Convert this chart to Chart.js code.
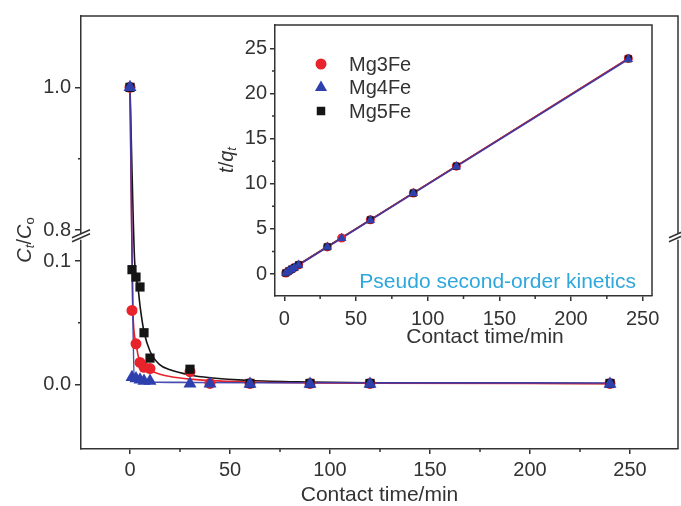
<!DOCTYPE html>
<html>
<head>
<meta charset="utf-8">
<title>Ct/Co vs contact time</title>
<script src="https://cdn.jsdelivr.net/npm/chart.js@4.4.0/dist/chart.umd.min.js"></script>
<style>
  body { margin: 0; background: #fff; }
  #wrap { position: relative; width: 681px; height: 506px; }
  #main { position: absolute; left: 0; top: 0; }
  #inset { position: absolute; left: 215px; top: 10px; }
</style>
</head>
<body>
<div id="wrap">
  <canvas id="main" width="681" height="506"></canvas>
  <canvas id="inset" width="450" height="340"></canvas>
</div>
<script>
// ---- removal curves (Ct/Co) ----
var times = [0, 1, 3, 5, 7, 10, 30, 40, 60, 90, 120, 240];
var ratioMg3Fe = [1.0, 0.060, 0.033, 0.018, 0.014, 0.013, 0.0105, 0.001, 0.001, 0.001, 0.001, 0.001];
var ratioMg4Fe = [1.0, 0.006, 0.005, 0.004, 0.003, 0.003, 0.0008, 0.0008, 0.0006, 0.0006, 0.0006, 0.0005];
var ratioMg5Fe = [1.0, 0.093, 0.087, 0.079, 0.042, 0.0215, 0.0125, null, 0.001, 0.001, 0.001, 0.001];

// fitted curves
var fitTimeMg3Fe = [0, 1.4, 3, 4, 5, 7, 10, 15, 20, 30, 40, 60, 90, 120, 240];
var fitMg3Fe = [1.0, 0.062, 0.034, 0.024, 0.019, 0.0145, 0.0115, 0.0085, 0.0066, 0.0045, 0.0033, 0.0022, 0.0015, 0.0012, 0.0008];
var fitTimeMg4Fe = [0, 2.2, 5, 10, 30, 60, 120, 240];
var fitMg4Fe = [1.0, 0.004, 0.0028, 0.0022, 0.0018, 0.0016, 0.0015, 0.0014];
var fitTimeMg5Fe = [0, 2.3, 4, 5, 7, 10, 15, 20, 30, 40, 60, 90, 120, 240];
var fitMg5Fe = [1.0, 0.11, 0.079, 0.064, 0.043, 0.027, 0.016, 0.012, 0.0078, 0.0056, 0.0034, 0.0022, 0.0016, 0.001];

var timeTicks = [0, 50, 100, 150, 200, 250];
var timeMinor = [25, 75, 125, 175, 225];
var ratioTicks = [0.0, 0.1, 0.8, 1.0];
var ratioMinor = [0.05, 0.9];

// ---- inset : pseudo second-order plot (t/qt) ----
var insetTimes = [1, 3, 5, 7, 10, 30, 40, 60, 90, 120, 240];
var tqMg3Fe = [0.11, 0.31, 0.51, 0.71, 1.01, 3.0, 3.99, 6.0, 8.97, 11.95, 23.9];
var tqMg4Fe = [0.10, 0.30, 0.50, 0.70, 1.0, 2.98, 3.97, 5.96, 8.94, 11.92, 23.8];
var tqMg5Fe = [0.11, 0.33, 0.54, 0.73, 1.02, 3.01, null, 6.0, 8.97, 11.95, 23.85];
var fitLineTime = [0, 240];
var tqFitMg3Fe = [0.03, 23.9];
var tqFitMg4Fe = [0.0, 23.8];
var tqFitMg5Fe = [0.05, 23.87];

var tqTicks = [0, 5, 10, 15, 20, 25];
var tqMinor = [2.5, 7.5, 12.5, 17.5, 22.5];

var red = '#e8232b', blue = '#2e3fae', black = '#151515';
var blueLine = 'rgba(52, 58, 170, 0.9)';
var axisColor = '#333', textColor = '#333';
var family = "'Liberation Sans', Arial, Helvetica, sans-serif";

Chart.defaults.font.family = family;
Chart.defaults.color = textColor;

// broken y axis: 0..0.1 keeps full scale, 0.1..0.8 is squeezed into a
// small gap, 0.8 and up is drawn at a smaller scale
var breakLow = 0.1, breakHigh = 0.8, gapSize = 0.025, upperRatio = 0.577;
function fold(v) {
  if (v <= breakLow) return v;
  if (v < breakHigh) return breakLow + (v - breakLow) / (breakHigh - breakLow) * gapSize;
  return breakLow + gapSize + (v - breakHigh) * upperRatio;
}
function unfold(f) {
  if (f <= breakLow) return f;
  if (f < breakLow + gapSize) return breakLow + (f - breakLow) / gapSize * (breakHigh - breakLow);
  return breakHigh + (f - breakLow - gapSize) / upperRatio;
}

class BrokenScale extends Chart.LinearScale {
  getPixelForValue(value) { return super.getPixelForValue(fold(value)); }
  getValueForPixel(pixel) { return unfold(super.getValueForPixel(pixel)); }
}
BrokenScale.id = 'broken';
BrokenScale.defaults = Chart.LinearScale.defaults;
Chart.register(BrokenScale);

function points(xs, ys) {
  return xs.map(function (x, i) { return { x: x, y: ys[i] }; });
}

function markerSet(label, xs, ys, color, style, r, order) {
  return {
    label: label, data: points(xs, ys), order: order,
    pointStyle: style, pointRadius: r, pointBackgroundColor: color,
    pointBorderColor: color, pointBorderWidth: 0, showLine: false
  };
}

function fitSet(xs, ys, color, order) {
  return {
    data: points(xs, ys), order: order, showLine: true, pointRadius: 0,
    borderColor: color, borderWidth: 1.6, cubicInterpolationMode: 'monotone'
  };
}

function setTicks(list) {
  return function (scale) { scale.ticks = list.map(function (v) { return { value: v }; }); };
}

// fixed axis box size, no extra room for overhanging labels
function fixHeight(h) {
  return function (s) { s.height = h; s.paddingLeft = 0; s.paddingRight = 0; };
}

// frame, short minor ticks and the axis break marks
var decor = {
  id: 'decor',
  beforeDraw: function (chart) {
    var a = chart.chartArea;
    chart.ctx.save();
    chart.ctx.fillStyle = '#fff';
    chart.ctx.fillRect(a.left, a.top, a.right - a.left, a.bottom - a.top);
    chart.ctx.restore();
  },
  afterDraw: function (chart, args, opts) {
    var ctx = chart.ctx, a = chart.chartArea;
    var xs = chart.scales.x, ys = chart.scales.y;
    ctx.save();
    ctx.strokeStyle = axisColor;
    ctx.lineWidth = 1.5;
    ctx.beginPath();
    ctx.moveTo(a.left, a.top);
    ctx.lineTo(a.right, a.top);
    ctx.lineTo(a.right, a.bottom);
    ctx.stroke();

    ctx.beginPath();
    opts.minorX.forEach(function (v) {
      var px = xs.getPixelForValue(v);
      ctx.moveTo(px, a.bottom);
      ctx.lineTo(px, a.bottom + 3);
    });
    opts.minorY.forEach(function (v) {
      var py = ys.getPixelForValue(v);
      ctx.moveTo(a.left, py);
      ctx.lineTo(a.left - 3, py);
    });
    ctx.stroke();

    if (opts.breakAt != null) {
      var by = ys.getPixelForValue(opts.breakAt);
      [a.left, a.right].forEach(function (bx) {
        ctx.fillStyle = '#fff';
        ctx.fillRect(bx - 2, by - 3, 4, 6);
        ctx.beginPath();
        ctx.moveTo(bx - 9, by + 1);
        ctx.lineTo(bx + 9, by - 7);
        ctx.moveTo(bx - 9, by + 5);
        ctx.lineTo(bx + 9, by - 3);
        ctx.stroke();
      });
    }
    ctx.restore();
  }
};

// rotated axis title made of several pieces (italics, subscripts)
function drawVerticalLabel(ctx, bx, cy, pieces) {
  ctx.save();
  ctx.translate(bx, cy);
  ctx.rotate(-Math.PI / 2);
  var total = 0;
  pieces.forEach(function (p) {
    ctx.font = p.font;
    p.w = ctx.measureText(p.text).width;
    total += p.w;
  });
  var x = -total / 2;
  ctx.textBaseline = 'alphabetic';
  ctx.fillStyle = textColor;
  pieces.forEach(function (p) {
    ctx.font = p.font;
    ctx.fillText(p.text, x, p.dy || 0);
    x += p.w;
  });
  ctx.restore();
}

var mainLabels = {
  id: 'mainLabels',
  afterDraw: function (chart) {
    drawVerticalLabel(chart.ctx, 31, 240, [
      { text: 'C', font: 'italic 20px ' + family },
      { text: 't', font: 'italic 13px ' + family, dy: 3 },
      { text: '/', font: '20px ' + family },
      { text: 'C', font: 'italic 20px ' + family },
      { text: 'o', font: '13px ' + family, dy: 3 }
    ]);
  }
};

var insetLabels = {
  id: 'insetLabels',
  afterDraw: function (chart) {
    var ctx = chart.ctx;
    drawVerticalLabel(ctx, 18, 150, [
      { text: 't', font: 'italic 20px ' + family },
      { text: '/', font: '20px ' + family },
      { text: 'q', font: 'italic 20px ' + family },
      { text: 't', font: 'italic 13px ' + family, dy: 3 }
    ]);
    ctx.save();
    ctx.fillStyle = textColor;
    ctx.font = '21px ' + family;
    ctx.textAlign = 'center';
    ctx.textBaseline = 'middle';
    ctx.fillText('Contact time/min', 270, 327);

    ctx.fillStyle = '#2ea8dc';
    ctx.textAlign = 'right';
    ctx.fillText('Pseudo second-order kinetics', 421, 272);

    // legend
    var items = [
      { text: 'Mg3Fe', color: red, style: 'circle', r: 5.5 },
      { text: 'Mg4Fe', color: blue, style: 'triangle', r: 7 },
      { text: 'Mg5Fe', color: black, style: 'rect', r: 6 }
    ];
    ctx.font = '20px ' + family;
    ctx.textAlign = 'left';
    items.forEach(function (it, i) {
      var y = 54 + i * 23.5;
      ctx.fillStyle = it.color;
      Chart.helpers.drawPoint(ctx, { pointStyle: it.style, radius: it.r, rotation: 0, borderWidth: 0 }, 106, y);
      ctx.fillStyle = textColor;
      ctx.fillText(it.text, 134, y + 1);
    });
    ctx.restore();
  }
};

var tickFont = { size: 20 };

new Chart(document.getElementById('main'), {
  type: 'scatter',
  data: {
    datasets: [
      markerSet('Mg4Fe', times, ratioMg4Fe, blue, 'triangle', 7.5, 1),
      markerSet('Mg5Fe', times, ratioMg5Fe, black, 'rect', 6.5, 2),
      markerSet('Mg3Fe', times, ratioMg3Fe, red, 'circle', 5.5, 3),
      fitSet(fitTimeMg4Fe, fitMg4Fe, blueLine, 4),
      fitSet(fitTimeMg3Fe, fitMg3Fe, red, 5),
      fitSet(fitTimeMg5Fe, fitMg5Fe, black, 6)
    ]
  },
  options: {
    responsive: false,
    animation: false,
    layout: { autoPadding: false, padding: { top: 15, right: 3, left: 0, bottom: 0 } },
    plugins: {
      legend: { display: false },
      tooltip: { enabled: false },
      decor: { minorX: timeMinor, minorY: ratioMinor, breakAt: 0.65 }
    },
    scales: {
      x: {
        type: 'linear', min: -24.5, max: 274, bounds: 'data',
        afterBuildTicks: setTicks(timeTicks),
        afterFit: fixHeight(57),
        grid: { drawOnChartArea: false, tickLength: 5, color: axisColor, lineWidth: 1.5 },
        border: { color: axisColor, width: 1.5 },
        ticks: { padding: 4, font: tickFont, maxRotation: 0, autoSkip: false },
        title: { display: true, text: 'Contact time/min', font: { size: 21 }, padding: { top: 0, bottom: -2 } }
      },
      y: {
        type: 'broken', min: fold(-0.052), max: fold(1.1), bounds: 'data',
        afterBuildTicks: setTicks(ratioTicks),
        afterFit: function (s) { s.width = 81; },
        grid: { drawOnChartArea: false, tickLength: 6, color: axisColor, lineWidth: 1.5 },
        border: { color: axisColor, width: 1.5 },
        ticks: { padding: 4, font: tickFont, autoSkip: false,
          callback: function (v) { return Number(v).toFixed(1); } }
      }
    }
  },
  plugins: [decor, mainLabels]
});

new Chart(document.getElementById('inset'), {
  type: 'scatter',
  data: {
    datasets: [
      markerSet('Mg4Fe', insetTimes, tqMg4Fe, blue, 'triangle', 5.5, 1),
      markerSet('Mg5Fe', insetTimes, tqMg5Fe, black, 'rect', 5, 2),
      markerSet('Mg3Fe', insetTimes, tqMg3Fe, red, 'circle', 4.5, 3),
      fitSet(fitLineTime, tqFitMg4Fe, blueLine, 4),
      fitSet(fitLineTime, tqFitMg3Fe, red, 5),
      fitSet(fitLineTime, tqFitMg5Fe, black, 6)
    ]
  },
  options: {
    responsive: false,
    animation: false,
    layout: { autoPadding: false, padding: { top: 15, right: 13, left: 0, bottom: 0 } },
    plugins: {
      legend: { display: false },
      tooltip: { enabled: false },
      decor: { minorX: timeMinor, minorY: tqMinor, breakAt: null }
    },
    scales: {
      x: {
        type: 'linear', min: -6.5, max: 256.5, bounds: 'data',
        afterBuildTicks: setTicks(timeTicks),
        afterFit: fixHeight(54),
        grid: { drawOnChartArea: false, tickLength: 5, color: axisColor, lineWidth: 1.5 },
        border: { color: axisColor, width: 1.5 },
        ticks: { padding: 6, font: tickFont, maxRotation: 0, autoSkip: false }
      },
      y: {
        type: 'linear', min: -2.44, max: 27.6, bounds: 'data',
        afterBuildTicks: setTicks(tqTicks),
        afterFit: function (s) { s.width = 60; },
        grid: { drawOnChartArea: false, tickLength: 5, color: axisColor, lineWidth: 1.5 },
        border: { color: axisColor, width: 1.5 },
        ticks: { padding: 3, font: tickFont, autoSkip: false }
      }
    }
  },
  plugins: [decor, insetLabels]
});
</script>
</body>
</html>
